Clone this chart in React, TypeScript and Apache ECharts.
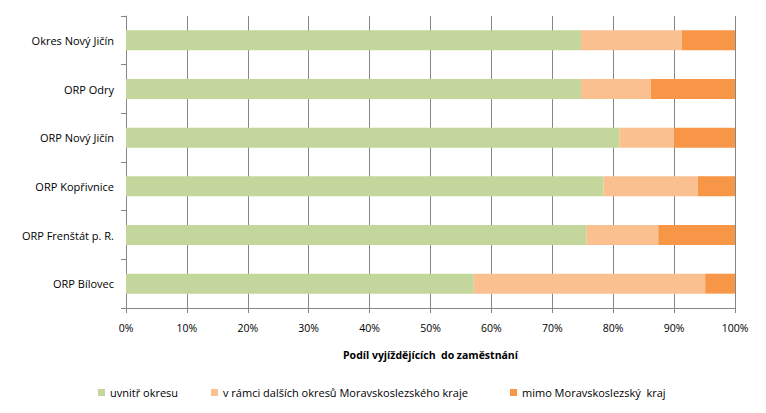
import React, { useEffect, useRef } from "react";
import * as echarts from "echarts";

const categories = [
  "Okres Nový Jičín",
  "ORP Odry",
  "ORP Nový Jičín",
  "ORP Kopřivnice",
  "ORP Frenštát p. R.",
  "ORP Bílovec",
];
const seriesNames = [
  "uvnitř okresu",
  "v rámci dalších okresů Moravskoslezského kraje",
  "mimo Moravskoslezský  kraj",
];
const inside = [74.7, 74.7, 81.0, 78.4, 75.6, 57.1];
const otherDistricts = [16.6, 11.5, 9.0, 15.5, 11.8, 38.0];
const outsideRegion = [8.7, 13.8, 10.0, 6.1, 12.6, 4.9];
const colors = ["#C3D69B", "#FAC090", "#F79646"];
const xTicks = [0, 10, 20, 30, 40, 50, 60, 70, 80, 90, 100];

const FONT = "Open Sans";

export default function App() {
  const ref = useRef<HTMLDivElement>(null);
  useEffect(() => {
    if (!ref.current) return;
    const chart = echarts.init(ref.current, null, { renderer: "svg" });
    const data = [inside, otherDistricts, outsideRegion];
    const legendLefts = [98, 211, 510];
    chart.setOption({
      animation: false,
      textStyle: { fontFamily: FONT },
      grid: { left: 126, right: 31, top: 16, bottom: 105, containLabel: false },
      legend: seriesNames.map((n, i) => ({
        data: [n],
        left: legendLefts[i],
        top: 387,
        itemWidth: 7,
        itemHeight: 7,
        itemGap: 0,
        icon: "rect",
        textStyle: { fontFamily: FONT, fontSize: 11, color: "#000" },
        padding: 0,
      })),
      xAxis: {
        type: "value",
        min: 0,
        max: 100,
        interval: 10,
        name: "Podíl vyjíždějících  do zaměstnání",
        nameLocation: "middle",
        nameGap: 41,
        nameTextStyle: { fontFamily: FONT, fontSize: 10.5, fontWeight: "bold", color: "#000" },
        axisLine: { show: true, lineStyle: { color: "#868686" } },
        axisTick: { show: true, length: 5, lineStyle: { color: "#868686" } },
        axisLabel: {
          fontFamily: FONT,
          fontSize: 10.5,
          color: "#000",
          margin: 14,
          formatter: (v: number) => (xTicks.includes(v) ? v + "%" : ""),
        },
        splitLine: { show: true, lineStyle: { color: "#868686" } },
      },
      yAxis: {
        type: "category",
        inverse: true,
        data: categories,
        axisLine: { show: true, lineStyle: { color: "#868686" } },
        axisTick: { show: true, length: 5, lineStyle: { color: "#868686" } },
        axisLabel: { fontFamily: FONT, fontSize: 11, color: "#000", margin: 12 },
      },
      series: seriesNames.map((n, i) => ({
        name: n,
        type: "bar",
        stack: "total",
        barWidth: "41%",
        data: data[i],
        itemStyle: { color: colors[i] },
      })),
    });
    return () => chart.dispose();
  }, []);
  return <div ref={ref} style={{ width: 766, height: 413, margin: -8 }} />;
}
